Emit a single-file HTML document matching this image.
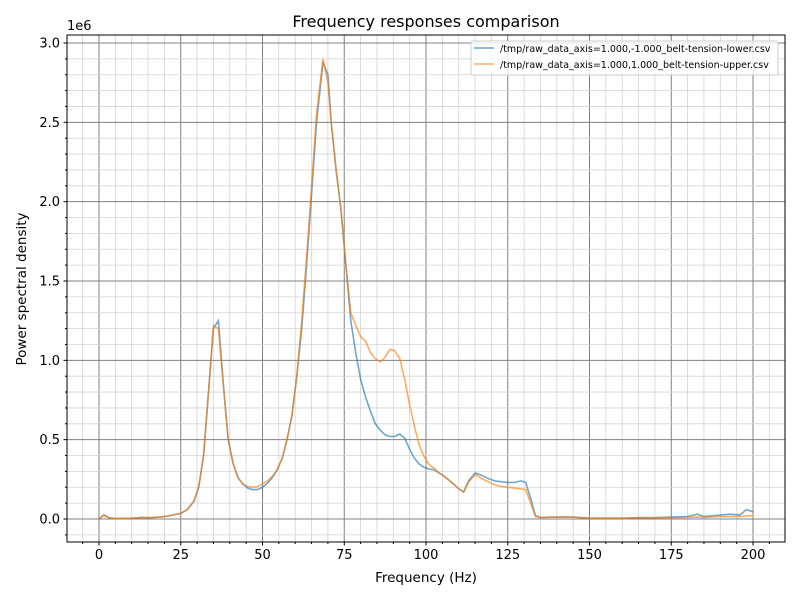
<!DOCTYPE html><html><head><style>body{margin:0;background:#fff}svg{display:block;font-family:"DejaVu Sans","Liberation Sans",sans-serif}</style></head><body>
<svg id="s" width="800" height="600" xmlns="http://www.w3.org/2000/svg">
<rect width="800" height="600" fill="#fff"/>
<g id="grid"></g>
<polyline id="b" fill="none" stroke="#1f77b4" stroke-opacity="0.65" stroke-width="1.6"/>
<polyline id="o" fill="none" stroke="#ff7f0e" stroke-opacity="0.65" stroke-width="1.6"/>
<rect x="67" y="35" width="718" height="507" fill="none" stroke="#000" stroke-width="1"/>
<g id="ticks" font-size="13" fill="#000"></g>
<text x="426" y="27" text-anchor="middle" font-size="16">Frequency responses comparison</text>
<text x="426" y="582" text-anchor="middle" font-size="13.5">Frequency (Hz)</text>
<text transform="translate(26,289) rotate(-90)" text-anchor="middle" font-size="13.5">Power spectral density</text>
<text x="67" y="30" font-size="13">1e6</text>
<rect x="471" y="41" width="307" height="34" rx="2" fill="#fff" fill-opacity="0.8" stroke="#ccc"/>
<line x1="474" y1="48" x2="494" y2="48" stroke="#1f77b4" stroke-opacity="0.65" stroke-width="1.6"/>
<line x1="474" y1="64" x2="494" y2="64" stroke="#ff7f0e" stroke-opacity="0.65" stroke-width="1.6"/>
<text x="500" y="52" font-size="9.5">/tmp/raw_data_axis=1.000,-1.000_belt-tension-lower.csv</text>
<text x="500" y="68" font-size="9.5">/tmp/raw_data_axis=1.000,1.000_belt-tension-upper.csv</text>
</svg>
<script>
const X=f=>99+3.27*f,Y=v=>519-158.67*v;
const B=[[0,0],[1.5,.025],[3,.008],[5,.003],[10,.005],[13,.01],[16,.008],[20,.015],[25,.035],[27,.06],[29,.11],[30.5,.2],[32,.4],[33.5,.8],[35,1.2],[36.5,1.25],[38,.85],[39.5,.5],[41,.35],[42.5,.26],[44,.22],[45.5,.195],[47,.185],[48.5,.185],[50,.2],[51.5,.225],[53,.26],[54.5,.31],[56,.38],[57.5,.5],[59,.65],[60.5,.9],[62,1.2],[63.5,1.6],[65,2.05],[66.5,2.5],[68.5,2.88],[70,2.8],[71,2.5],[72.5,2.2],[74,1.95],[75.5,1.6],[77,1.25],[78.5,1.05],[80,.88],[81.5,.77],[83,.68],[84.5,.6],[86,.56],[87.5,.53],[89,.52],[90.5,.52],[92,.535],[93.5,.51],[95,.44],[96.5,.38],[98,.345],[99.5,.325],[101,.315],[102.5,.31],[104,.29],[105.5,.27],[107,.245],[108.5,.22],[110,.19],[111.5,.17],[113,.24],[115,.29],[117,.275],[119,.255],[121,.24],[123,.235],[125,.23],[127,.23],[129,.24],[130.5,.23],[132,.13],[133.5,.02],[135,.01],[140,.012],[145,.012],[150,.005],[155,.005],[160,.005],[165,.008],[170,.008],[175,.012],[180,.015],[183,.03],[185,.015],[190,.025],[193,.03],[196,.025],[198,.06],[200,.045]];
const ov={35:1.22,36.5:1.2,45.5:.205,47:.2,48.5:.205,50:.22,51.5:.24,53:.27,62:1.25,63.5:1.65,65:2.1,66.5:2.55,68.5:2.9,70:2.75,77:1.3,78.5:1.22,80:1.15,81.5:1.12,83:1.05,84.5:1.01,86:.99,87.5:1.02,89:1.07,90.5:1.06,92:1.01,93.5:.88,95:.72,96.5:.58,98:.46,99.5:.39,101:.34,102.5:.32,113:.23,115:.28,117:.255,119:.235,121:.215,123:.205,125:.2,127:.195,129:.19,130.5:.185,132:.1,133.5:.015,175:.008,180:.01,183:.012,185:.01,190:.015,193:.015,196:.015,198:.02,200:.02};
const O=B.map(([f,v])=>[f,ov[f]!==undefined?ov[f]:v]);
const pts=a=>a.map(([f,v])=>X(f).toFixed(1)+','+Y(v).toFixed(1)).join(' ');
document.getElementById('b').setAttribute('points',pts(B));
document.getElementById('o').setAttribute('points',pts(O));
let g='',t='';
for(let f=-5;f<=210;f+=5){const x=X(f);if(x<67||x>785)continue;const maj=f%25==0;
g+=`<line x1="${x}" y1="35" x2="${x}" y2="542" stroke="${maj?'#808080':'#d3d3d3'}" stroke-width="${maj?1:0.8}"/>`;
t+=`<line x1="${x}" y1="542" x2="${x}" y2="${maj?545.5:544}" stroke="#000"/>`;
if(maj)t+=`<text x="${x}" y="559" text-anchor="middle">${f}</text>`;}
for(let i=-1;i<=31;i++){const v=i/10,y=Y(v);if(y<35||y>542)continue;const maj=i%5==0;
g+=`<line x1="67" y1="${y}" x2="785" y2="${y}" stroke="${maj?'#808080':'#d3d3d3'}" stroke-width="${maj?1:0.8}"/>`;
t+=`<line x1="${maj?63.5:65}" y1="${y}" x2="67" y2="${y}" stroke="#000"/>`;
if(maj)t+=`<text x="60" y="${y+4.5}" text-anchor="end">${v.toFixed(1)}</text>`;}
document.getElementById('grid').innerHTML=g;document.getElementById('ticks').innerHTML=t;
</script></body></html>
